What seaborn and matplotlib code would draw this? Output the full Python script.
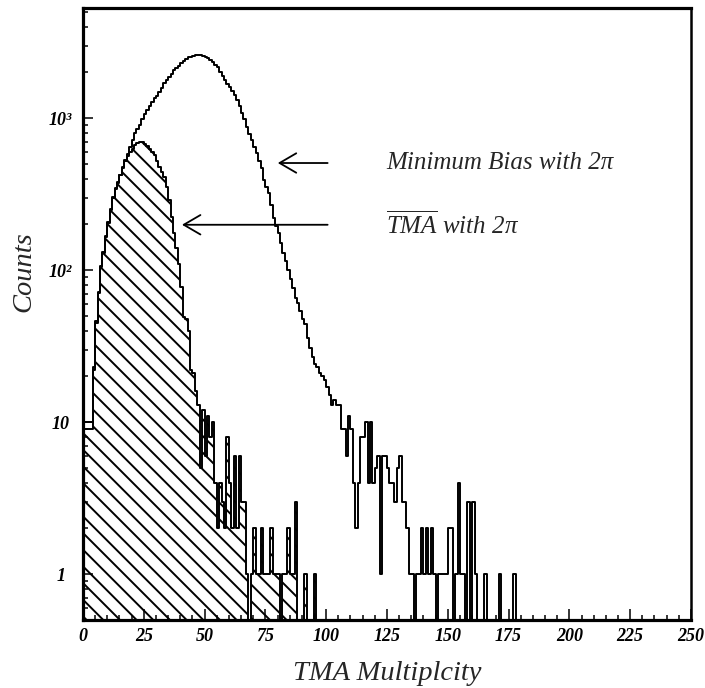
import numpy as np
import pandas as pd
import matplotlib
matplotlib.use("Agg")
import matplotlib.pyplot as plt
from matplotlib.ticker import FixedLocator, LogLocator, MultipleLocator, NullFormatter
import seaborn as sns

# Minimum-bias trigger: counts per unit multiplicity bin (bin k covers [k, k+1))
mb_multiplicity = list(range(0, 180))
mb_counts = [
    10, 10, 10, 10, 23, 46, 72, 107, 132, 168,
    206, 254, 305, 345, 382, 426, 477, 533, 580, 650,
    720, 800, 850, 900, 980, 1060, 1130, 1200, 1280, 1350,
    1400, 1480, 1580, 1700, 1780, 1870, 1960, 2070, 2140, 2220,
    2300, 2370, 2450, 2520, 2540, 2580, 2610, 2600, 2590, 2570,
    2520, 2470, 2400, 2330, 2250, 2170, 2020, 1880, 1780, 1690,
    1600, 1500, 1410, 1310, 1200, 1080, 980, 880, 790, 720,
    650, 590, 520, 470, 390, 350, 320, 270, 220, 195,
    175, 150, 130, 115, 100, 88, 76, 66, 61, 54,
    48, 44, 36, 31, 27, 24, 23, 21, 20, 19,
    17, 15, 13, 14, 13, 13, 9, 9, 6, 11,
    9, 4, 2, 4, 8, 8, 10, 4, 10, 4,
    5, 6, 1, 6, 6, 5, 4, 4, 3, 5,
    6, 3, 3, 2, 1, 1, 0, 1, 1, 2,
    1, 2, 1, 2, 1, 0, 1, 1, 1, 1,
    2, 2, 0, 1, 4, 1, 1, 0, 3, 0,
    3, 1, 0, 0, 0, 1, 0, 0, 0, 0,
    0, 1, 0, 0, 0, 0, 0, 1, 0, 0,
]

# Anti-TMA trigger: counts per unit multiplicity bin
tma_multiplicity = list(range(0, 96))
tma_counts = [
    9, 9, 9, 9, 22, 45, 71, 105, 130, 165,
    203, 250, 300, 340, 377, 420, 470, 526, 565, 595,
    630, 665, 690, 700, 695, 680, 660, 630, 600, 570,
    520, 480, 445, 410, 350, 290, 225, 175, 140, 110,
    78, 49, 48, 40, 22, 21, 16, 13, 5, 12,
    6, 11, 8, 10, 4, 2, 4, 3, 2, 8,
    4, 2, 6, 2, 6, 3, 3, 1, 0, 1,
    2, 1, 1, 2, 1, 1, 1, 2, 1, 1,
    1, 0, 1, 1, 2, 1, 1, 3, 0, 0,
    0, 1, 0, 0, 0, 1,
]

x_ticks = [0, 25, 50, 75, 100, 125, 150, 175, 200, 225, 250]
y_ticks = [1, 10, 100, 1000]
y_tick_labels = ["1", "10", "10²", "10³"]

mb_label = "Minimum Bias with 2π"
tma_label = r"$\overline{TMA}$ with 2π"

sns.set_style("ticks")
plt.rcParams.update({
    "font.family": ["Liberation Serif", "DejaVu Serif"],
    "mathtext.fontset": "custom",
    "mathtext.rm": "Liberation Serif",
    "mathtext.it": "Liberation Serif:italic",
    "mathtext.bf": "Liberation Serif:bold:italic",
    "hatch.color": "black",
    "hatch.linewidth": 1.4,
    "axes.edgecolor": "black",
})

mb = pd.DataFrame({"multiplicity": mb_multiplicity, "counts": mb_counts})
tma = pd.DataFrame({"multiplicity": tma_multiplicity, "counts": tma_counts})
hist_kw = dict(x="multiplicity", weights="counts", binwidth=1, binrange=(0, 250),
               element="step", color="black")

fig = plt.figure(figsize=(7.05, 6.88), dpi=100)
ax = fig.add_axes([0.1177, 0.0988, 0.8624, 0.8895])

# hatched area under the anti-TMA distribution
sns.histplot(data=tma, fill=True, linewidth=0, ax=ax, **hist_kw)
hatch_area = ax.collections[-1]
hatch_area.set_facecolor("none")
hatch_area.set_edgecolor("black")
hatch_area.set_linewidth(0)
hatch_area.set_hatch("\\\\")

# outlines of both distributions
sns.histplot(data=tma, fill=False, linewidth=1.4, ax=ax, **hist_kw)
sns.histplot(data=mb, fill=False, linewidth=1.4, ax=ax, **hist_kw)

ax.set_yscale("log")
ax.set_xlim(0, 250)
ax.set_ylim(0.5, 5300)

# axes frame and ticks
for side in ["left", "bottom", "top"]:
    ax.spines[side].set_linewidth(2.3)
ax.spines["right"].set_linewidth(1.8)

ax.xaxis.set_major_locator(FixedLocator(x_ticks))
ax.xaxis.set_minor_locator(MultipleLocator(5))
ax.yaxis.set_major_locator(FixedLocator(y_ticks))
ax.yaxis.set_minor_locator(LogLocator(base=10, subs=np.arange(2, 10), numticks=20))
ax.yaxis.set_minor_formatter(NullFormatter())
ax.set_xticklabels([str(t) for t in x_ticks])
ax.set_yticklabels(y_tick_labels)

ax.tick_params(axis="both", which="both", direction="in", top=False, right=False,
               width=1.1, colors="black")
ax.tick_params(axis="x", which="major", length=8, pad=6, labelsize=13)
ax.tick_params(axis="x", which="minor", length=3.5)
ax.tick_params(axis="y", which="major", length=7, pad=16, labelsize=13)
ax.tick_params(axis="y", which="minor", length=3.5)
for lab in ax.get_xticklabels() + ax.get_yticklabels():
    lab.set_fontweight("bold")
    lab.set_fontstyle("italic")
for lab in ax.get_yticklabels():
    lab.set_horizontalalignment("center")

ax.set_xlabel("TMA Multiplcity", fontsize=20.5, fontstyle="italic", va="center")
ax.set_ylabel("Counts", fontsize=20.5, fontstyle="italic", va="center")
ax.xaxis.set_label_coords(0.5, -0.087)
ax.yaxis.set_label_coords(-0.097, 0.57)

# arrows pointing at each distribution with their captions
arrow = dict(arrowstyle="->,head_length=0.6,head_width=0.35", lw=1.3,
             color="black", shrinkA=0, shrinkB=0, mutation_scale=20)
ax.annotate("", xy=(80.1, 507), xytext=(100.6, 507), arrowprops=arrow)
ax.annotate("", xy=(40.7, 199), xytext=(100.6, 199), arrowprops=arrow)
ax.text(124.8, 507, mb_label, fontsize=18, fontstyle="italic", va="center", ha="left")
ax.text(124.8, 199, tma_label, fontsize=18, fontstyle="italic", va="center", ha="left")

fig.savefig("out.png", dpi=100)
